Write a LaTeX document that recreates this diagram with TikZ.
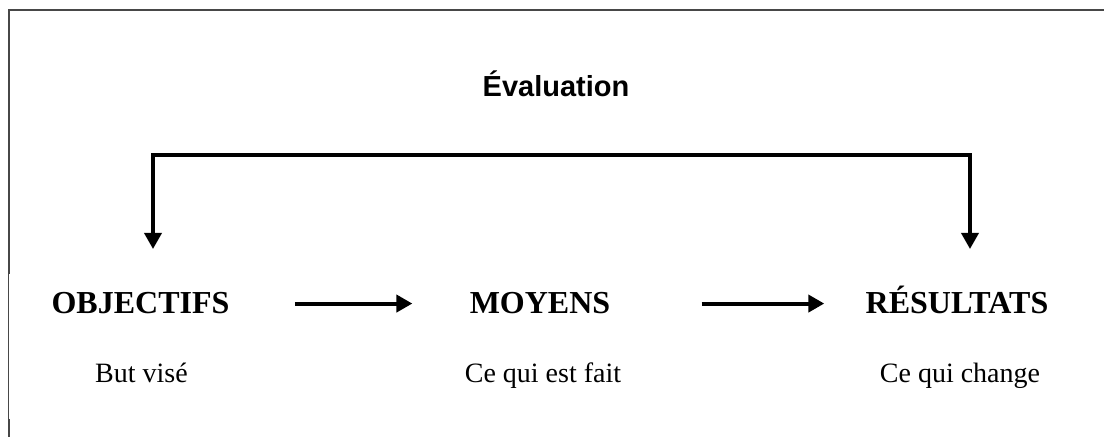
\documentclass[tikz,border=0pt]{standalone}
\usepackage{fontspec}
\setmainfont{Liberation Serif}
\newfontfamily\evalfont{Liberation Sans}
\usetikzlibrary{arrows.meta}

\begin{document}
\begin{tikzpicture}[x=0.5pt,y=-0.5pt,
  cadre/.style={draw=black!72},
  titre/.style={font=\fontsize{16}{19}\selectfont\bfseries,anchor=base,inner sep=0pt},
  sous/.style={font=\fontsize{14}{17}\selectfont,anchor=base,inner sep=0pt},
  fleche/.style={line width=2pt,-{Triangle[length=8pt,width=8.5pt]}},
  crochet/.style={line width=1.75pt,line join=miter,
    {Triangle[length=8pt,width=8.5pt]}-{Triangle[length=8pt,width=8.5pt]}}]
  \useasboundingbox
    (0,0)
    rectangle
    (1104,437);
  \draw[cadre,line width=1pt]
    (1104,10)
    --
    (8.5,10)
    --
    (8.5,274);
  \draw[cadre,line width=0.5pt]
    (8.5,274)
    --
    (8.5,419);
  \draw[cadre,line width=1pt]
    (8.5,419)
    --
    (8.5,437);
  \node[anchor=base,font=\evalfont\fontsize{14.5}{17}\selectfont\bfseries]
    (eval) at (556,97) {Évaluation};
  \node[titre] (obj) at (140.5,314) {OBJECTIFS};
  \node[titre] (moy) at (540,314) {MOYENS};
  \node[titre] (res) at (957,314) {RÉSULTATS};
  \node[sous] (but) at (141.5,383) {But visé};
  \node[sous] (fait) at (543,383) {Ce qui est fait};
  \node[sous] (change) at (960,383) {Ce qui change};
  \coordinate (hautG) at (153,155);
  \coordinate (hautD) at (970,155);
  \coordinate (basG) at (153,249);
  \coordinate (basD) at (970,249);
  \draw[crochet]
    (basG)
    --
    (hautG)
    --
    (hautD)
    --
    (basD);
  \draw[fleche,shorten <=32.5pt,shorten >=28.5pt]
    (obj.east)
    --
    (moy.west);
  \draw[fleche,shorten <=45.5pt,shorten >=20.5pt]
    (moy.east)
    --
    (moy.east -| res.west);
\end{tikzpicture}
\end{document}
